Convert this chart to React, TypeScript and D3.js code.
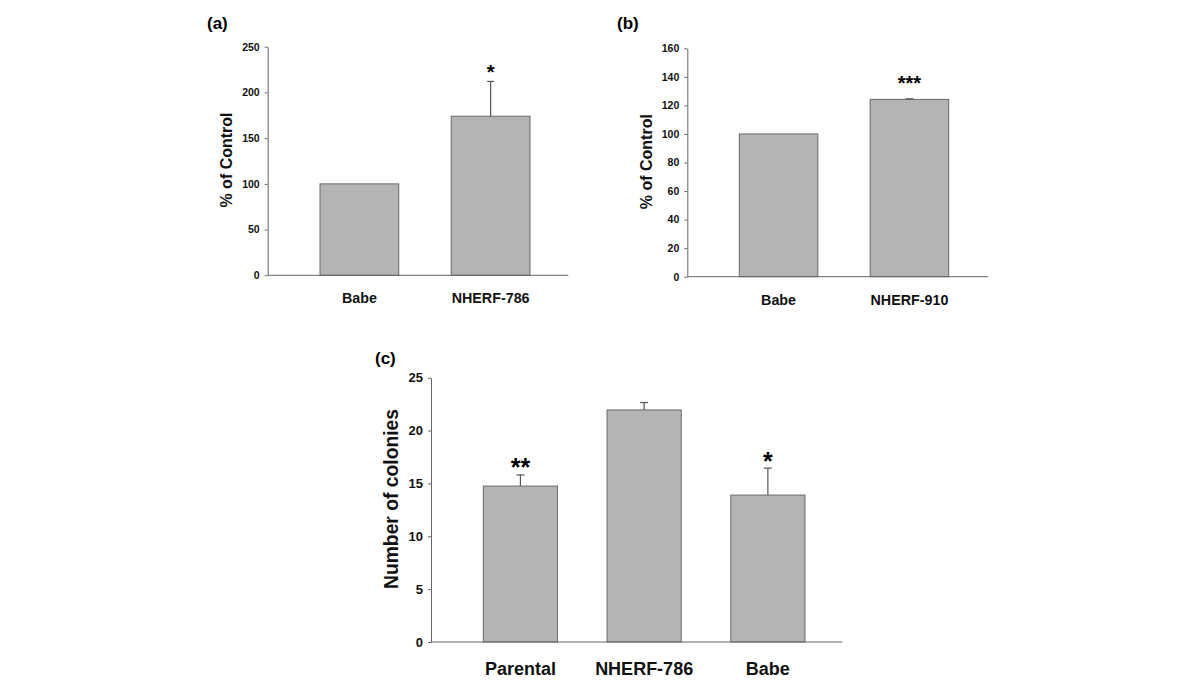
import React, { useEffect, useRef } from 'react';
import * as d3 from 'd3';

// panel (a)
const aCategories = ['Babe', 'NHERF-786'];
const aValues = [100, 174];
const aErrors = [0, 38];
const aStars = ['', '*'];
const aTicks = [0, 50, 100, 150, 200, 250];

// panel (b)
const bCategories = ['Babe', 'NHERF-910'];
const bValues = [100, 124.2];
const bErrors = [0, 0.4];
const bStars = ['', '***'];
const bTicks = [0, 20, 40, 60, 80, 100, 120, 140, 160];

// panel (c)
const cCategories = ['Parental', 'NHERF-786', 'Babe'];
const cValues = [14.75, 21.95, 13.9];
const cErrors = [1.05, 0.7, 2.55];
const cStars = ['**', '', '*'];
const cTicks = [0, 5, 10, 15, 20, 25];

const FONT = 'Liberation Sans, Arial, sans-serif';

type PanelCfg = {
  label: string;
  labelX: number;
  labelY: number;
  categories: string[];
  values: number[];
  errors: number[];
  stars: string[];
  ticks: number[];
  axisX: number;
  axisEnd: number;
  y0: number;
  yTop: number;
  band: [number, number];
  title: string;
  titleX: number;
  titleY: number;
  titleSize: number;
  tickSize: number;
  catSize: number;
  catY: number;
  starSize: number;
  starGap: number;
  capW: number;
};

const panels: PanelCfg[] = [
  {
    label: '(a)', labelX: 207, labelY: 29,
    categories: aCategories, values: aValues, errors: aErrors, stars: aStars, ticks: aTicks,
    axisX: 267.7, axisEnd: 568.3, y0: 275.3, yTop: 46.7, band: [320, 530],
    title: '% of Control', titleX: 232, titleY: 160, titleSize: 16,
    tickSize: 10.5, catSize: 14.3, catY: 303, starSize: 20, starGap: 2, capW: 7,
  },
  {
    label: '(b)', labelX: 617, labelY: 29,
    categories: bCategories, values: bValues, errors: bErrors, stars: bStars, ticks: bTicks,
    axisX: 687.3, axisEnd: 988.3, y0: 276.7, yTop: 48.3, band: [739.3, 948.7],
    title: '% of Control', titleX: 652, titleY: 161.7, titleSize: 16,
    tickSize: 10.5, catSize: 14.3, catY: 305, starSize: 20, starGap: 9, capW: 8,
  },
  {
    label: '(c)', labelX: 375, labelY: 364,
    categories: cCategories, values: cValues, errors: cErrors, stars: cStars, ticks: cTicks,
    axisX: 431, axisEnd: 842.3, y0: 642, yTop: 377.7, band: [483.3, 805],
    title: 'Number of colonies', titleX: 398, titleY: 499, titleSize: 19.3,
    tickSize: 13, catSize: 18, catY: 675, starSize: 25, starGap: -1.5, capW: 8,
  },
];

const App = () => {
  const svgRef = useRef<SVGSVGElement>(null);

  useEffect(() => {
    const svg = d3.select(svgRef.current);
    svg.selectAll('*').remove();

    panels.forEach((p) => {
      const g = svg.append('g');
      const y = d3.scaleLinear()
        .domain([0, p.ticks[p.ticks.length - 1]])
        .range([p.y0, p.yTop]);
      const x = d3.scaleBand()
        .domain(p.categories)
        .range(p.band)
        .paddingInner(0.4)
        .paddingOuter(0);

      // panel letter
      g.append('text')
        .attr('x', p.labelX)
        .attr('y', p.labelY)
        .attr('font-family', FONT)
        .attr('font-weight', 'bold')
        .attr('font-size', 17)
        .text(p.label);

      // bars
      g.selectAll('rect.bar')
        .data(p.values)
        .enter()
        .append('rect')
        .attr('x', (d, i) => x(p.categories[i])!)
        .attr('y', (d) => y(d))
        .attr('width', x.bandwidth())
        .attr('height', (d) => p.y0 - y(d))
        .attr('fill', '#b4b4b4')
        .attr('stroke', '#6a6a6a')
        .attr('stroke-width', 1);

      // error bars (upper only)
      p.values.forEach((v, i) => {
        if (!p.errors[i]) return;
        const cx = x(p.categories[i])! + x.bandwidth() / 2;
        const top = y(v + p.errors[i]);
        g.append('line')
          .attr('x1', cx).attr('x2', cx)
          .attr('y1', y(v)).attr('y2', top)
          .attr('stroke', '#555').attr('stroke-width', 1.2);
        g.append('line')
          .attr('x1', cx - p.capW / 2).attr('x2', cx + p.capW / 2)
          .attr('y1', top).attr('y2', top)
          .attr('stroke', '#555').attr('stroke-width', 1.2);
      });

      // significance stars
      p.stars.forEach((s, i) => {
        if (!s) return;
        const cx = x(p.categories[i])! + x.bandwidth() / 2;
        g.append('text')
          .attr('x', cx)
          .attr('y', y(p.values[i] + p.errors[i]) - p.starGap)
          .attr('text-anchor', 'middle')
          .attr('font-family', FONT)
          .attr('font-weight', 'bold')
          .attr('font-size', p.starSize)
          .text(s);
      });

      // y axis
      const yAxis = g.append('g')
        .attr('transform', `translate(${p.axisX},0)`)
        .call(d3.axisLeft(y).tickValues(p.ticks).tickSize(3).tickPadding(5).tickSizeOuter(0));
      yAxis.select('.domain').attr('stroke', '#666');
      yAxis.selectAll('.tick line').attr('stroke', '#666');
      yAxis.selectAll('.tick text')
        .attr('font-family', FONT)
        .attr('font-weight', 'bold')
        .attr('font-size', p.tickSize)
        .attr('fill', '#111');

      // x axis baseline
      g.append('line')
        .attr('x1', p.axisX).attr('x2', p.axisEnd)
        .attr('y1', p.y0).attr('y2', p.y0)
        .attr('stroke', '#666').attr('stroke-width', 1);

      // category labels
      g.selectAll('text.cat')
        .data(p.categories)
        .enter()
        .append('text')
        .attr('x', (d) => x(d)! + x.bandwidth() / 2)
        .attr('y', p.catY)
        .attr('text-anchor', 'middle')
        .attr('font-family', FONT)
        .attr('font-weight', 'bold')
        .attr('font-size', p.catSize)
        .attr('fill', '#111')
        .text((d) => d);

      // y title
      g.append('text')
        .attr('transform', `translate(${p.titleX},${p.titleY}) rotate(-90)`)
        .attr('text-anchor', 'middle')
        .attr('font-family', FONT)
        .attr('font-weight', 'bold')
        .attr('font-size', p.titleSize)
        .attr('fill', '#111')
        .text(p.title);
    });
  }, []);

  return (
    <svg
      ref={svgRef}
      width={1200}
      height={686}
      style={{ position: 'absolute', left: 0, top: 0, background: '#fff' }}
    />
  );
};

export default App;
